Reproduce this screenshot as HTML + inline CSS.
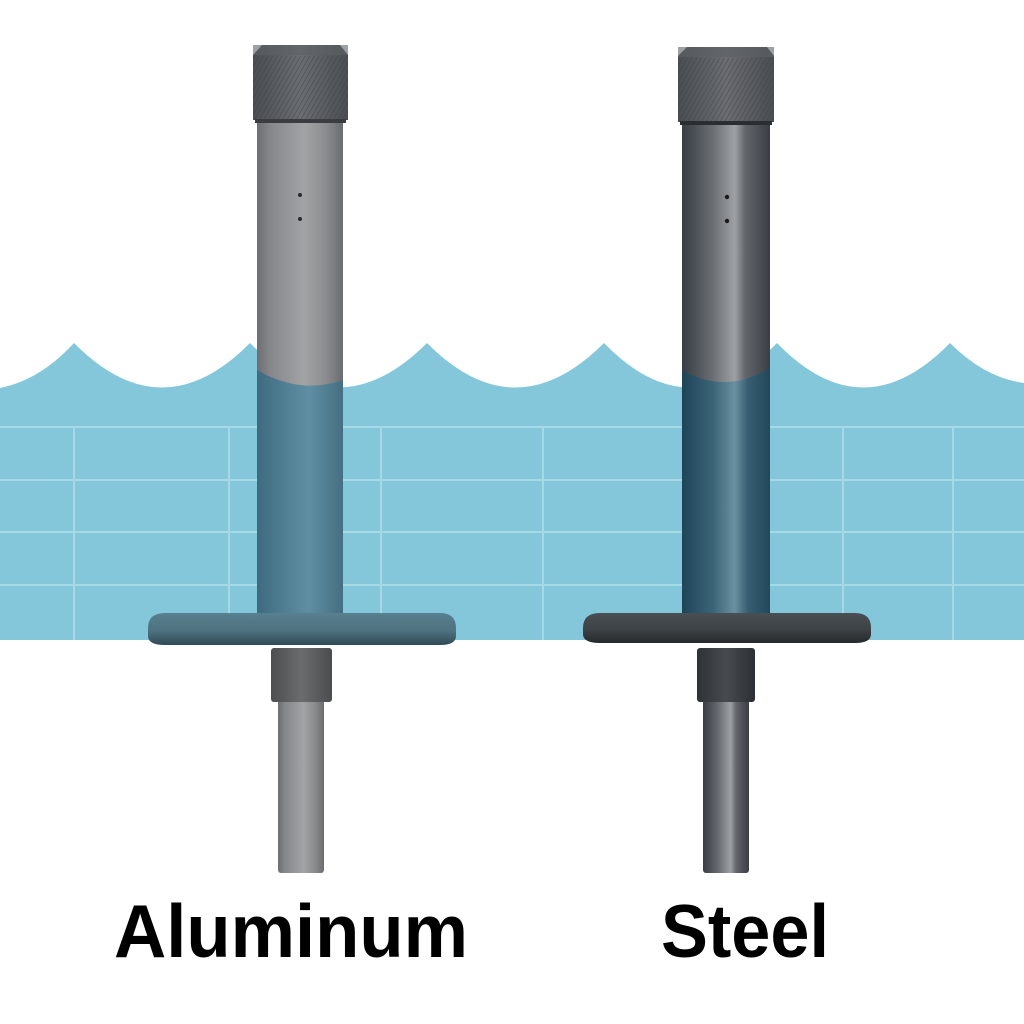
<!DOCTYPE html>
<html><head><meta charset="utf-8"><style>
html,body{margin:0;padding:0;background:#fff;}
svg{display:block;}
</style></head><body>
<svg width="1024" height="1024" viewBox="0 0 1024 1024" xmlns="http://www.w3.org/2000/svg">
<defs>
<linearGradient id="alu" x1="0" x2="1" y1="0" y2="0">
<stop offset="0" stop-color="#6c6e71"/><stop offset="0.15" stop-color="#85878a"/><stop offset="0.55" stop-color="#a2a3a5"/><stop offset="0.8" stop-color="#8a8c8e"/><stop offset="1" stop-color="#6a6c6f"/>
</linearGradient>
<linearGradient id="stl" x1="0" x2="1" y1="0" y2="0">
<stop offset="0" stop-color="#3b3f45"/><stop offset="0.15" stop-color="#4c5157"/><stop offset="0.35" stop-color="#6b6f74"/><stop offset="0.6" stop-color="#9ea1a4"/><stop offset="0.72" stop-color="#62666b"/><stop offset="1" stop-color="#3a3e44"/>
</linearGradient>
<linearGradient id="aluW" x1="0" x2="1">
<stop offset="0" stop-color="#3f6b80"/><stop offset="0.6" stop-color="#5f8ea2"/><stop offset="1" stop-color="#456f83"/>
</linearGradient>
<linearGradient id="stlW" x1="0" x2="1">
<stop offset="0" stop-color="#1f4458"/><stop offset="0.35" stop-color="#3b6477"/><stop offset="0.6" stop-color="#6a90a0"/><stop offset="0.75" stop-color="#375e71"/><stop offset="1" stop-color="#22475a"/>
</linearGradient>
<linearGradient id="cap" x1="0" x2="1">
<stop offset="0" stop-color="#4a4d51"/><stop offset="0.5" stop-color="#6a6d71"/><stop offset="1" stop-color="#4a4d51"/>
</linearGradient>
<pattern id="knurl" width="4" height="4" patternUnits="userSpaceOnUse" patternTransform="rotate(30)">
<rect width="4" height="4" fill="none"/><line x1="0" y1="0" x2="0" y2="4" stroke="#3c3f43" stroke-width="1.2"/>
</pattern>
<linearGradient id="disk1" x1="0" x2="0" y1="0" y2="1">
<stop offset="0" stop-color="#58808e"/><stop offset="0.55" stop-color="#4e7280"/><stop offset="1" stop-color="#2f4a56"/>
</linearGradient>
<linearGradient id="disk2" x1="0" x2="0" y1="0" y2="1">
<stop offset="0" stop-color="#4a4f53"/><stop offset="0.55" stop-color="#3d4246"/><stop offset="1" stop-color="#25292c"/>
</linearGradient>
<linearGradient id="neck1" x1="0" x2="1">
<stop offset="0" stop-color="#4c4e50"/><stop offset="0.5" stop-color="#6a6c6e"/><stop offset="1" stop-color="#4a4c4e"/>
</linearGradient>
<linearGradient id="neck2" x1="0" x2="1">
<stop offset="0" stop-color="#2e3236"/><stop offset="0.5" stop-color="#474b4f"/><stop offset="1" stop-color="#2c3034"/>
</linearGradient>
</defs>

<!-- water -->
<path d="M0,388 Q40,380 74,343 Q162,432 250,343 Q338,432 427,343 Q515,432 604,343 Q690,432 777,343 Q863,432 950,343 Q985,378 1024,383 L1024,640 L0,640 Z" fill="#84c7da"/>
<g stroke="#a6d8e6" stroke-width="2">
<line x1="0" y1="427" x2="1024" y2="427"/><line x1="0" y1="480" x2="1024" y2="480"/>
<line x1="0" y1="532" x2="1024" y2="532"/><line x1="0" y1="585" x2="1024" y2="585"/>
<line x1="74" y1="427" x2="74" y2="640"/><line x1="229" y1="427" x2="229" y2="640"/>
<line x1="381" y1="427" x2="381" y2="640"/><line x1="543" y1="427" x2="543" y2="640"/>
<line x1="690" y1="427" x2="690" y2="640"/><line x1="843" y1="427" x2="843" y2="640"/>
<line x1="953" y1="427" x2="953" y2="640"/>
</g>

<!-- LEFT rod -->
<rect x="278" y="700" width="46" height="173" rx="3" fill="url(#alu)"/>
<rect x="271" y="648" width="61" height="54" rx="3" fill="url(#neck1)"/>
<rect x="257" y="118" width="86" height="500" fill="url(#alu)"/>
<path d="M257,370 Q300,395 343,380 L343,613 L257,613 Z" fill="url(#aluW)"/>
<path d="M148,628 Q148,613 165,613 L440,613 Q456,613 456,628 L456,636 Q456,645 440,645 L165,645 Q148,645 148,636 Z" fill="url(#disk1)"/>
<path d="M262,45 L340,45 L348,55 L348,120 L253,120 L253,55 Z" fill="url(#cap)"/>
<rect x="253" y="56" width="95" height="64" fill="url(#knurl)" opacity="0.6"/>
<rect x="253" y="45" width="95" height="10" fill="#5e6165" opacity="0.6"/>
<rect x="255" y="119" width="91" height="4" fill="#3a3c3f"/>
<circle cx="300" cy="195" r="2" fill="#2a2a2a"/><circle cx="300" cy="219" r="2" fill="#2a2a2a"/>

<!-- RIGHT rod -->
<rect x="703" y="700" width="46" height="173" rx="3" fill="url(#stl)"/>
<rect x="697" y="648" width="58" height="54" rx="3" fill="url(#neck2)"/>
<rect x="682" y="120" width="88" height="498" fill="url(#stl)"/>
<path d="M682,370 Q726,395 770,368 L770,613 L682,613 Z" fill="url(#stlW)"/>
<path d="M583,628 Q583,613 600,613 L855,613 Q871,613 871,628 L871,634 Q871,643 855,643 L600,643 Q583,643 583,634 Z" fill="url(#disk2)"/>
<path d="M687,47 L767,47 L774,56 L774,122 L678,122 L678,56 Z" fill="url(#cap)"/>
<rect x="678" y="58" width="96" height="64" fill="url(#knurl)" opacity="0.6"/>
<rect x="678" y="47" width="96" height="10" fill="#5e6165" opacity="0.6"/>
<rect x="680" y="121" width="92" height="4" fill="#2a2d31"/>
<circle cx="727" cy="197" r="2.2" fill="#1a1a1a"/><circle cx="727" cy="221" r="2.2" fill="#1a1a1a"/>

<!-- labels -->
<text x="114" y="957" font-family="Liberation Sans, sans-serif" font-weight="bold" font-size="75" textLength="354" lengthAdjust="spacingAndGlyphs" fill="#000">Aluminum</text>
<text x="661" y="957" font-family="Liberation Sans, sans-serif" font-weight="bold" font-size="75" textLength="168" lengthAdjust="spacingAndGlyphs" fill="#000">Steel</text>
</svg>
</body></html>
